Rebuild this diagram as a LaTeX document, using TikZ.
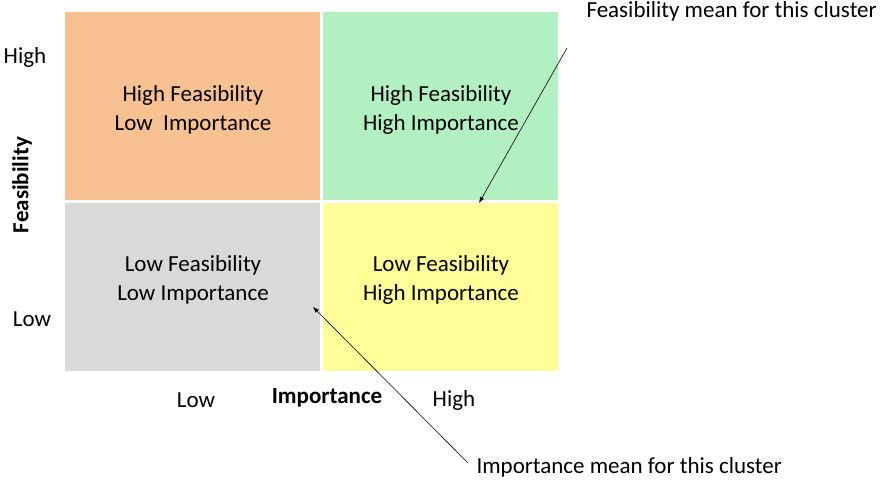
\documentclass[tikz,border=0pt]{standalone}
\usepackage{fontspec}
\setmainfont{Carlito}
\usetikzlibrary{arrows.meta}
\definecolor{quadHFLI}{HTML}{F8C192}
\definecolor{quadHFHI}{HTML}{B3F0C1}
\definecolor{quadLFLI}{HTML}{D9D9D9}
\definecolor{quadLFHI}{HTML}{FFFF99}

\begin{document}
\begin{tikzpicture}[x=1pt,y=-1pt,quad/.style={draw=none, inner sep=0pt},qtext/.style={align=center, font=\fontsize{23}{29}\selectfont},axis/.style={font=\fontsize{23}{27}\selectfont},note/.style={font=\fontsize{23}{27}\selectfont, anchor=west},narrow/.style={-{Latex[length=6pt, width=4.5pt]}, semithick}]
\useasboundingbox (0,0) rectangle (883,479);
% quadrants
\node[quad, fill=quadHFLI, minimum width=255pt, minimum height=188pt] (hfli) at (192.5,106) {};
\node[quad, fill=quadHFHI, minimum width=235pt, minimum height=188pt] (hfhi) at (440.5,106) {};
\node[quad, fill=quadLFLI, minimum width=255pt, minimum height=168pt] (lfli) at (192.5,287) {};
\node[quad, fill=quadLFHI, minimum width=235pt, minimum height=168pt] (lfhi) at (440.5,287) {};
\node[qtext] (thfli) at (193,110) {High Feasibility\\Low\ \ Importance};
\node[qtext] (thfhi) at (441,110) {High Feasibility\\High Importance};
\node[qtext] (tlfli) at (193,280) {Low Feasibility\\Low Importance};
\node[qtext] (tlfhi) at (441,280) {Low Feasibility\\High Importance};
% axes
\node[axis] (fhigh) at (25,57) {High};
\node[axis] (flow) at (32,319) {Low};
\node[axis, rotate=90, font=\fontsize{23}{27}\selectfont\bfseries] (feas) at (22,185) {Feasibility};
\node[axis] (ilow) at (196,400) {Low};
\node[axis, font=\fontsize{23}{27}\selectfont\bfseries] (imp) at (327,398) {Importance};
\node[axis] (ihigh) at (454,400) {High};
% cluster means
\node[note] (fnote) at (583,11) {Feasibility mean for this cluster};
\node[note] (inote) at (473,467) {Importance mean for this cluster};
\coordinate (fstart) at (567,48);
\coordinate (fmean) at (479,203);
\coordinate (istart) at (468,463);
\coordinate (imean) at (313,307);
\draw[narrow] (fstart)--(fmean);
\draw[narrow] (istart)--(imean);
\end{tikzpicture}
\end{document}
